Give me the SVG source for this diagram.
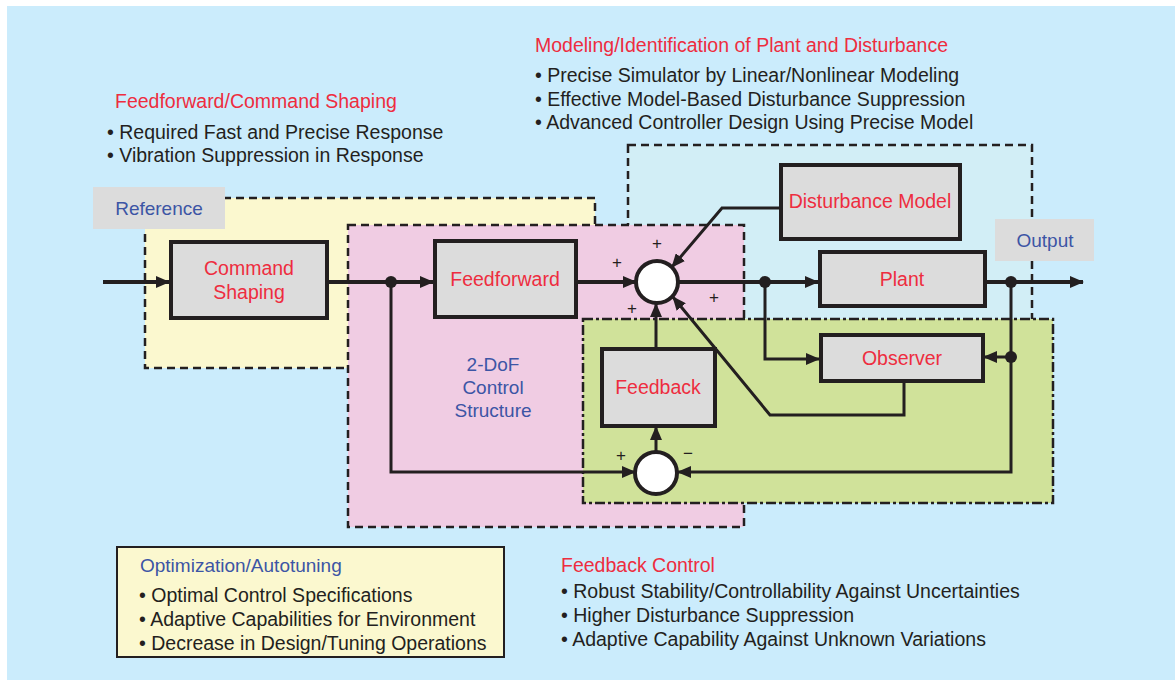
<svg xmlns="http://www.w3.org/2000/svg" width="1175" height="680" viewBox="0 0 1175 680">
<defs>
<marker id="ah" markerUnits="userSpaceOnUse" markerWidth="14" markerHeight="12" refX="13" refY="6" orient="auto">
<path d="M0,0 L14,6 L0,12 Z" fill="#231f20"/>
</marker>
<style>
text{font-family:"Liberation Sans",Arial,sans-serif}
.red{fill:#ee2d3f;font-size:19.5px}
.blue{fill:#3c55a5;font-size:19px}
.body{fill:#231f20;font-size:19.5px}
.box{fill:#dcdcdc;stroke:#231f20;stroke-width:4}
.lbl{fill:#dcdcdc}
.reg{stroke:#231f20;stroke-width:2.5;stroke-dasharray:8 5}
.wire{fill:none;stroke:#231f20;stroke-width:4}
.thin{fill:none;stroke:#231f20;stroke-width:3}
.sum{fill:#fff;stroke:#231f20;stroke-width:4}
.sign{fill:#231f20;font-size:17px;text-anchor:middle}
.mid{text-anchor:middle}
</style>
</defs>
<rect x="7" y="6" width="1168" height="674" fill="#cbecfc"/>

<g id="regions">
<rect x="145" y="198" width="450" height="170" fill="#fbf8cf" class="reg"/>
<rect x="628" y="145" width="404" height="250" fill="#d2eef6" class="reg"/>
<rect x="348" y="225" width="396" height="302" fill="#f0cce3" class="reg"/>
<rect x="583" y="319" width="470" height="184" fill="#d0e29a" stroke="#231f20" stroke-width="2.5" stroke-dasharray="10 3 3 3"/>
</g>

<g id="reference-label">
<rect x="93" y="187" width="132" height="42" class="lbl"/>
<text x="159" y="215" class="blue mid">Reference</text>
</g>
<g id="output-label">
<rect x="995" y="219" width="99" height="42" class="lbl"/>
<text x="1045" y="247" class="blue mid">Output</text>
</g>

<g id="connectors">
<path d="M103,282 H169" class="wire" marker-end="url(#ah)"/>
<path d="M329,282 H433" class="wire" marker-end="url(#ah)"/>
<path d="M578,282 H636" class="wire" marker-end="url(#ah)"/>
<path d="M678,282 H818" class="wire" marker-end="url(#ah)"/>
<path d="M986,282 H1083" class="wire" marker-end="url(#ah)"/>
<path d="M391,282 V472 H635" class="thin" marker-end="url(#ah)"/>
<path d="M1011,282 V472 H678" class="thin" marker-end="url(#ah)"/>
<path d="M765,282 V359 H819" class="thin" marker-end="url(#ah)"/>
<path d="M1011,357 H984" class="thin" marker-end="url(#ah)"/>
<path d="M656,451 V427" class="thin" marker-end="url(#ah)"/>
<path d="M656,348 V304" class="thin" marker-end="url(#ah)"/>
<path d="M904,382 V415 H770 L673,297" class="thin" marker-end="url(#ah)"/>
<path d="M779,208 H722 L672,267" class="thin" marker-end="url(#ah)"/>
<circle cx="391" cy="282" r="6" fill="#231f20"/>
<circle cx="765" cy="282" r="6" fill="#231f20"/>
<circle cx="1011" cy="282" r="6" fill="#231f20"/>
<circle cx="1011" cy="357" r="6" fill="#231f20"/>
</g>

<g id="command-shaping">
<rect x="171" y="242" width="156" height="76" class="box"/>
<text x="249" y="275" class="red mid">Command</text>
<text x="249" y="299" class="red mid">Shaping</text>
</g>
<g id="feedforward">
<rect x="435" y="241" width="141" height="76" class="box"/>
<text x="505" y="286" class="red mid">Feedforward</text>
</g>
<g id="sum-upper">
<circle cx="657" cy="282" r="21" class="sum"/>
</g>
<g id="disturbance-model">
<rect x="781" y="165" width="179" height="74" class="box"/>
<text x="870" y="208" class="red mid">Disturbance Model</text>
</g>
<g id="plant">
<rect x="820" y="252" width="165" height="54" class="box"/>
<text x="902" y="286" class="red mid">Plant</text>
</g>
<g id="observer">
<rect x="821" y="335" width="162" height="46" class="box"/>
<text x="902" y="365" class="red mid">Observer</text>
</g>
<g id="feedback">
<rect x="602" y="349" width="113" height="77" class="box"/>
<text x="658" y="394" class="red mid">Feedback</text>
</g>
<g id="sum-lower">
<circle cx="656" cy="473" r="21" class="sum"/>
</g>

<g id="signs">
<text x="617" y="268" class="sign">+</text>
<text x="657" y="249" class="sign">+</text>
<text x="632" y="314" class="sign">+</text>
<text x="714" y="303" class="sign">+</text>
<text x="621" y="461" class="sign">+</text>
<text x="688" y="459" class="sign">−</text>
</g>

<g id="dof-label">
<text x="493" y="371" class="blue mid">2-DoF</text>
<text x="493" y="394" class="blue mid">Control</text>
<text x="493" y="417" class="blue mid">Structure</text>
</g>

<g id="feedforward-notes">
<text x="115" y="108" class="red">Feedforward/Command Shaping</text>
<text x="107" y="139" class="body">• Required Fast and Precise Response</text>
<text x="107" y="162" class="body">• Vibration Suppression in Response</text>
</g>
<g id="modeling-notes">
<text x="535" y="52" class="red">Modeling/Identification of Plant and Disturbance</text>
<text x="535" y="82" class="body">• Precise Simulator by Linear/Nonlinear Modeling</text>
<text x="535" y="106" class="body">• Effective Model-Based Disturbance Suppression</text>
<text x="535" y="129" class="body">• Advanced Controller Design Using Precise Model</text>
</g>
<g id="optimization">
<rect x="117" y="547" width="387" height="110" fill="#fbf8cf" stroke="#231f20" stroke-width="2"/>
<text x="140" y="572" class="blue">Optimization/Autotuning</text>
<text x="139" y="602" class="body">• Optimal Control Specifications</text>
<text x="139" y="626" class="body">• Adaptive Capabilities for Environment</text>
<text x="139" y="650" class="body">• Decrease in Design/Tuning Operations</text>
</g>
<g id="feedback-notes">
<text x="561" y="572" class="red">Feedback Control</text>
<text x="561" y="598" class="body">• Robust Stability/Controllability Against Uncertainties</text>
<text x="561" y="622" class="body">• Higher Disturbance Suppression</text>
<text x="561" y="646" class="body">• Adaptive Capability Against Unknown Variations</text>
</g>
</svg>
